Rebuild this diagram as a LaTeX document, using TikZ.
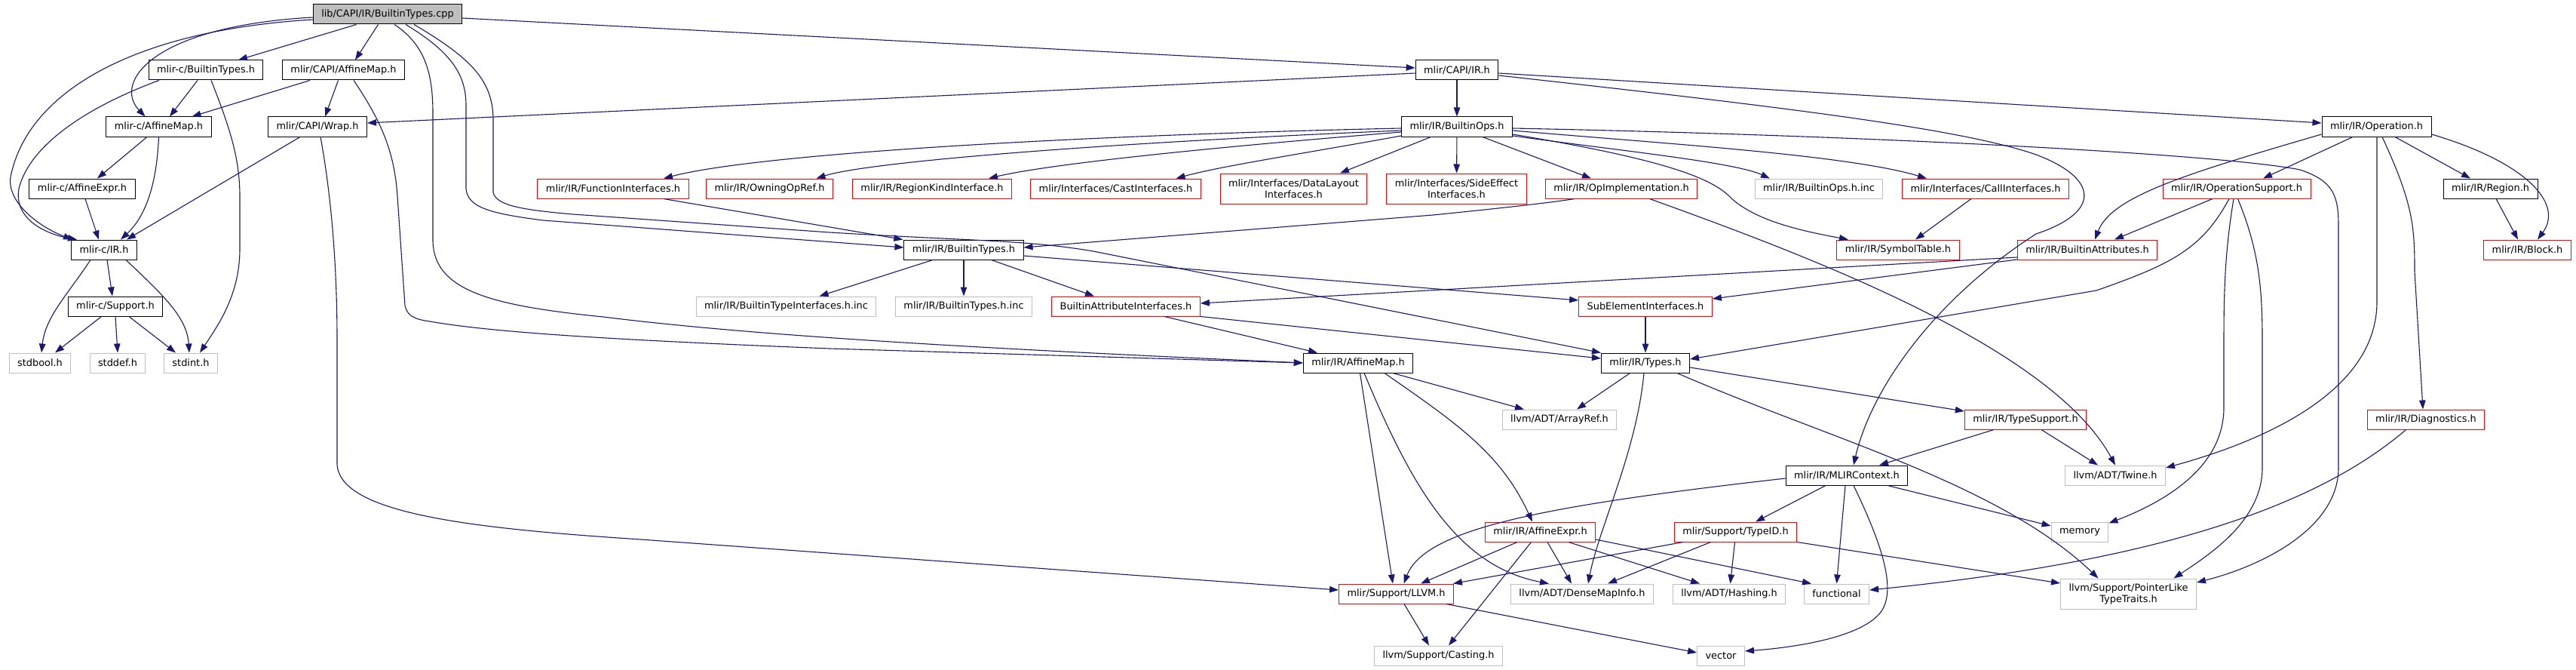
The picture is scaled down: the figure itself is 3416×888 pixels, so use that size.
\documentclass[tikz,border=0pt]{standalone}
\usepackage{fontspec}
\usetikzlibrary{arrows.meta,calc}
\newfontfamily\dvs{DejaVu Sans}
\definecolor{edgec}{RGB}{25,25,112}
\definecolor{grayb}{RGB}{191,191,191}
\definecolor{redb}{RGB}{255,0,0}
\begin{document}
\begin{tikzpicture}[x=1pt,y=-1pt,
  nd/.style={draw, line width=1pt, inner xsep=11pt, inner ysep=0pt, minimum height=26pt,
    font=\dvs\fontsize{12.9}{15}\selectfont, align=center, text=black},
  blk/.style={nd, draw=black},
  rnd/.style={nd, draw=redb},
  gnd/.style={nd, draw=grayb},
  twol/.style={minimum height=40pt},
  lnk/.style={draw=edgec, line width=1.1pt, -{Triangle[length=12pt,width=8.5pt]}}]
\fill[white] (0,0) rectangle (3416,888);
\useasboundingbox (0,0) rectangle (3416,888);
% nodes
\node[blk, fill=grayb] (root) at (514,19) {lib/CAPI/IR/BuiltinTypes.cpp};
\node[blk] (cBT) at (273,93) {mlir-c/BuiltinTypes.h};
\node[blk] (capiAM) at (455.5,93) {mlir/CAPI/AffineMap.h};
\node[blk] (capiIR) at (1932,93) {mlir/CAPI/IR.h};
\node[blk] (cAM) at (210.5,168) {mlir-c/AffineMap.h};
\node[blk] (wrap) at (421,168) {mlir/CAPI/Wrap.h};
\node[blk] (bops) at (1932,168) {mlir/IR/BuiltinOps.h};
\node[blk] (oper) at (3151.5,168) {mlir/IR/Operation.h};
\node[blk] (cAE) at (109,250) {mlir-c/AffineExpr.h};
\node[rnd] (funcI) at (813,250) {mlir/IR/FunctionInterfaces.h};
\node[rnd] (owning) at (1020.5,250) {mlir/IR/OwningOpRef.h};
\node[rnd] (regionK) at (1236,250) {mlir/IR/RegionKindInterface.h};
\node[rnd] (castI) at (1479.5,250) {mlir/Interfaces/CastInterfaces.h};
\node[rnd, twol] (dlI) at (1715.5,250) {mlir/Interfaces/DataLayout\\Interfaces.h};
\node[rnd, twol] (seI) at (1931.5,250) {mlir/Interfaces/SideEffect\\Interfaces.h};
\node[rnd] (opImpl) at (2150,250) {mlir/IR/OpImplementation.h};
\node[gnd] (bopsInc) at (2412,250) {mlir/IR/BuiltinOps.h.inc};
\node[rnd] (callI) at (2633,250) {mlir/Interfaces/CallInterfaces.h};
\node[rnd] (opSup) at (2966,250) {mlir/IR/OperationSupport.h};
\node[blk] (region) at (3302.5,250) {mlir/IR/Region.h};
\node[blk] (cIR) at (138,331) {mlir-c/IR.h};
\node[blk] (btypes) at (1278,331) {mlir/IR/BuiltinTypes.h};
\node[rnd] (symT) at (2517,331) {mlir/IR/SymbolTable.h};
\node[rnd] (battr) at (2768,331) {mlir/IR/BuiltinAttributes.h};
\node[rnd] (block) at (3351.5,331) {mlir/IR/Block.h};
\node[blk] (cSup) at (153,406) {mlir-c/Support.h};
\node[gnd] (btiInc) at (1042.5,406) {mlir/IR/BuiltinTypeInterfaces.h.inc};
\node[gnd] (btInc) at (1278,406) {mlir/IR/BuiltinTypes.h.inc};
\node[rnd] (baI) at (1493,406) {BuiltinAttributeInterfaces.h};
\node[rnd] (subE) at (2182,406) {SubElementInterfaces.h};
\node[gnd] (stdbool) at (53,481) {stdbool.h};
\node[gnd] (stddef) at (156,481) {stddef.h};
\node[gnd] (stdint) at (253,481) {stdint.h};
\node[blk] (irAM) at (1801,481) {mlir/IR/AffineMap.h};
\node[blk] (types) at (2182,481) {mlir/IR/Types.h};
\node[gnd] (arrayref) at (2068,556) {llvm/ADT/ArrayRef.h};
\node[rnd] (typeSup) at (2686,556) {mlir/IR/TypeSupport.h};
\node[rnd] (diag) at (3217,556) {mlir/IR/Diagnostics.h};
\node[blk] (mctx) at (2449,630) {mlir/IR/MLIRContext.h};
\node[gnd] (twine) at (2805,630) {llvm/ADT/Twine.h};
\node[rnd] (irAE) at (2042.5,705) {mlir/IR/AffineExpr.h};
\node[rnd] (typeid) at (2301.5,705) {mlir/Support/TypeID.h};
\node[gnd] (memory) at (2758,705) {memory};
\node[rnd] (llvm) at (1851.5,787) {mlir/Support/LLVM.h};
\node[gnd] (dmi) at (2098,787) {llvm/ADT/DenseMapInfo.h};
\node[gnd] (hashing) at (2293,787) {llvm/ADT/Hashing.h};
\node[gnd] (functional) at (2435.5,787) {functional};
\node[gnd, twol] (plt) at (2822.5,787) {llvm/Support/PointerLike\\TypeTraits.h};
\node[gnd] (casting) at (1907.5,869) {llvm/Support/Casting.h};
\node[gnd] (vector) at (2282,869) {vector};
% edges
\draw[lnk] ($(root.south)+(-41.5,0)$) -- ($(cBT.north)+(43,0)$);
\draw[lnk] ($(root.south)+(-12.5,0)$) -- ($(capiAM.north)+(15.5,0)$);
\draw[lnk] ($(root.west)+(0,4)$) .. controls (200,35) and (150,110) .. ($(cAM.north)+(-18,0)$);
\draw[lnk] ($(root.west)+(0,7)$) .. controls (180,40) and (40,120) .. (15,230) .. controls (5,265) and (50,300) .. ($(cIR.north west)+(2,0)$);
\draw[lnk] ($(root.east)+(0,5)$) -- ($(capiIR.west)+(0,-3)$);
\draw[lnk] ($(root.south)+(9,0)$) .. controls (565,60) and (574,100) .. (574,150) -- (574,320) .. controls (576,385) and (650,405) .. (800,420) .. controls (1000,445) and (1300,462) .. (irAM.west);
\draw[lnk] ($(capiAM.south)+(13.5,0)$) .. controls (505,160) and (523,200) .. (527,260) -- (537,405) .. controls (540,418) and (548,423) .. (570,426) .. controls (650,440) and (800,450) .. (1100,462) -- (irAM.west);
\draw[lnk] ($(root.south)+(24,0)$) .. controls (600,70) and (618,100) .. (618,140) -- (618,250) .. controls (620,275) and (650,283) .. (720,292) -- ($(btypes.west)+(0,-3)$);
\draw[lnk] ($(root.south)+(35,0)$) .. controls (630,80) and (654,110) .. (654,160) -- (654,255) .. controls (658,272) and (690,278) .. (760,284) -- (1100,308) .. controls (1300,320) and (1360,318) .. (1450,333) -- (types.north west);
\draw[lnk] ($(cBT.south)+(-11,0)$) -- ($(cAM.north)+(14.5,0)$);
\draw[lnk] ($(cBT.south)+(-62,0)$) .. controls (120,140) and (40,190) .. (25,250) .. controls (18,290) and (60,310) .. ($(cIR.north west)+(8,0)$);
\draw[lnk] ($(cBT.south)+(7,0)$) .. controls (305,170) and (318,210) .. (318,260) -- (318,330) .. controls (318,390) and (290,430) .. ($(stdint.north)+(12,0)$);
\draw[lnk] ($(capiAM.south)+(-44.5,0)$) -- ($(cAM.north)+(44,0)$);
\draw[lnk] ($(capiAM.south)+(-7,0)$) -- ($(wrap.north)+(10,0)$);
\draw[lnk] (capiIR) -- (bops);
\draw[lnk] ($(capiIR.west)+(0,4)$) -- ($(wrap.east)+(0,-5)$);
\draw[lnk] ($(capiIR.east)+(0,4)$) -- ($(oper.west)+(0,-5)$);
\draw[lnk] ($(capiIR.east)+(0,7)$) .. controls (2350,140) and (2600,170) .. (2700,205) .. controls (2780,235) and (2790,280) .. (2700,310) .. controls (2560,400) and (2480,520) .. ($(mctx.north)+(9,0)$);
\draw[lnk] ($(bops.west)+(0,2)$) .. controls (1400,180) and (1000,205) .. ($(funcI.north)+(67,0)$);
\draw[lnk] ($(bops.west)+(0,5)$) .. controls (1450,190) and (1150,215) .. ($(owning.north)+(62,0)$);
\draw[lnk] ($(bops.west)+(0,7)$) .. controls (1550,200) and (1380,220) .. ($(regionK.north)+(75,0)$);
\draw[lnk] ($(bops.west)+(0,12)$) .. controls (1720,205) and (1620,220) .. ($(castI.north)+(80,0)$);
\draw[lnk] ($(bops.south)+(-34.5,0)$) -- ($(dlI.north)+(61.5,0)$);
\draw[lnk] (bops) -- (seI);
\draw[lnk] ($(bops.south)+(34,0)$) -- ($(opImpl.north)+(-40,0)$);
\draw[lnk] ($(bops.east)+(0,12)$) .. controls (2150,200) and (2300,215) .. ($(bopsInc.north)+(-65,0)$);
\draw[lnk] ($(bops.east)+(0,5)$) .. controls (2200,190) and (2450,205) .. ($(callI.north)+(-78,0)$);
\draw[lnk] ($(bops.east)+(0,10)$) .. controls (2200,210) and (2270,235) .. (2295,262) .. controls (2330,295) and (2400,308) .. ($(symT.north)+(-66,0)$);
\draw[lnk] ($(bops.east)+(0,2)$) .. controls (2500,180) and (2950,205) .. (3050,225) .. controls (3095,240) and (3101,260) .. (3101,300) -- (3101,620) .. controls (3101,700) and (3000,750) .. ($(plt.east)+(0,-15)$);
\draw[lnk] ($(opImpl.south)+(-62,0)$) .. controls (2060,268) and (2000,275) .. (1900,285) -- ($(btypes.east)+(0,-3)$);
\draw[lnk] ($(opImpl.south)+(37.5,0)$) .. controls (2400,340) and (2720,460) .. (twine.north);
\draw[lnk] ($(callI.south)+(-19,0)$) -- ($(symT.north)+(23,0)$);
\draw[lnk] ($(oper.west)+(0,10)$) .. controls (2900,230) and (2800,260) .. ($(battr.north)+(10,0)$);
\draw[lnk] ($(oper.south)+(-31.5,0)$) -- ($(opSup.north)+(35,0)$);
\draw[lnk] ($(oper.south)+(24.5,0)$) -- ($(region.north)+(-26.5,0)$);
\draw[lnk] ($(oper.east)+(0,10)$) .. controls (3350,215) and (3400,270) .. ($(block.north)+(13.5,0)$);
\draw[lnk] ($(oper.south)+(0.5,0)$) -- (3152,400) .. controls (3152,520) and (3000,585) .. ($(twine.east)+(0,-10)$);
\draw[lnk] ($(oper.south)+(7.5,0)$) .. controls (3200,270) and (3202,300) .. (3202,360) -- ($(diag.north)+(-4,0)$);
\draw[lnk] ($(opSup.south)+(-32,0)$) -- ($(battr.north)+(36,0)$);
\draw[lnk] ($(opSup.south)+(-10,0)$) .. controls (2920,330) and (2880,350) .. (2780,385) -- ($(types.east)+(0,-5)$);
\draw[lnk] ($(opSup.south)+(-4,0)$) .. controls (2951,330) and (2949,380) .. (2949,450) -- (2949,540) .. controls (2949,620) and (2870,665) .. ($(memory.north east)+(0,2)$);
\draw[lnk] ($(opSup.south)+(1.5,0)$) .. controls (2995,330) and (3000,380) .. (3000,450) -- (3000,620) .. controls (3000,690) and (2930,735) .. ($(plt.north)+(60,0)$);
\draw[lnk] ($(region.south)+(7.5,0)$) -- ($(block.north)+(-12.5,0)$);
\draw[lnk] ($(battr.west)+(0,10)$) -- ($(baI.east)+(0,-4)$);
\draw[lnk] ($(battr.west)+(0,13)$) -- ($(subE.east)+(0,-10)$);
\draw[lnk] ($(btypes.south)+(-41,0)$) -- ($(btiInc.north)+(44,0)$);
\draw[lnk] (btypes) -- (btInc);
\draw[lnk] ($(btypes.south)+(36.5,0)$) -- ($(baI.north)+(-42,0)$);
\draw[lnk] ($(btypes.east)+(0,8)$) -- ($(subE.west)+(0,-8)$);
\draw[lnk] ($(funcI.south)+(67,0)$) -- ($(btypes.north west)+(-1,0)$);
\draw[lnk] ($(baI.south)+(51,0)$) -- ($(irAM.north)+(-54,0)$);
\draw[lnk] (baI.south east) -- ($(types.west)+(0,-6)$);
\draw[lnk] (subE) -- (types);
\draw[lnk] ($(cAM.south)+(-15.5,0)$) -- ($(cAE.north)+(20,0)$);
\draw[lnk] (cAM.south) .. controls (208,240) and (195,285) .. ($(cIR.north)+(22,0)$);
\draw[lnk] ($(cAE.south)+(4,0)$) -- ($(cIR.north)+(-7,0)$);
\draw[lnk] ($(wrap.south)+(-23,0)$) -- ($(cIR.north)+(30,0)$);
\draw[lnk] ($(wrap.south)+(4,0)$) .. controls (443,280) and (447,380) .. (447,450) -- (447,615) .. controls (450,680) and (620,700) .. (850,715) -- ($(llvm.west)+(0,-5)$);
\draw[lnk] ($(cIR.south)+(4,0)$) -- ($(cSup.north)+(-4,0)$);
\draw[lnk] ($(cIR.south)+(-18,0)$) .. controls (90,390) and (60,420) .. ($(stdbool.north)+(2,0)$);
\draw[lnk] ($(cIR.south)+(29,0)$) .. controls (215,390) and (248,420) .. ($(stdint.north)+(-2,0)$);
\draw[lnk] ($(cSup.south)+(-18.5,0)$) -- ($(stdbool.north)+(20,0)$);
\draw[lnk] (cSup.south) -- (stddef.north);
\draw[lnk] ($(cSup.south)+(18,0)$) -- ($(stdint.north)+(-20,0)$);
\draw[lnk] ($(irAM.south)+(2.5,0)$) -- ($(llvm.north)+(-4.5,0)$);
\draw[lnk] ($(irAM.south)+(8,0)$) .. controls (1870,640) and (1930,750) .. ($(dmi.north)+(-44,0)$);
\draw[lnk] ($(irAM.south)+(35,0)$) .. controls (1930,560) and (1990,600) .. ($(irAE.north)+(-10.5,0)$);
\draw[lnk] ($(irAM.south)+(46,0)$) -- ($(arrayref.north)+(-47,0)$);
\draw[lnk] ($(types.south)+(-20.5,0)$) -- ($(arrayref.north)+(23,0)$);
\draw[lnk] ($(types.south)+(-2,0)$) .. controls (2170,600) and (2120,700) .. ($(dmi.north)+(8,0)$);
\draw[lnk] ($(types.east)+(0,6)$) -- ($(typeSup.west)+(0,-11)$);
\draw[lnk] ($(types.south)+(42,0)$) .. controls (2420,580) and (2650,640) .. ($(plt.north)+(-40,0)$);
\draw[lnk] ($(typeSup.south)+(-42,0)$) -- ($(mctx.north)+(43,0)$);
\draw[lnk] ($(typeSup.south)+(21,0)$) -- ($(twine.north)+(-23,0)$);
\draw[lnk] ($(mctx.south)+(-28,0)$) -- ($(typeid.north)+(26.5,0)$);
\draw[lnk] ($(mctx.south)+(-2,0)$) -- (functional.north);
\draw[lnk] ($(mctx.south)+(9,0)$) .. controls (2495,720) and (2515,780) .. (2495,810) .. controls (2470,845) and (2380,858) .. ($(vector.east)+(0,-6)$);
\draw[lnk] ($(mctx.south)+(54,0)$) -- ($(memory.west)+(0,-8)$);
\draw[lnk] ($(mctx.west)+(0,4)$) .. controls (2050,670) and (1890,700) .. ($(llvm.north)+(10,0)$);
\draw[lnk] ($(typeid.south)+(-69.5,0)$) -- ($(llvm.north east)+(-1,0)$);
\draw[lnk] ($(typeid.south)+(-33,0)$) -- ($(dmi.north)+(34,0)$);
\draw[lnk] ($(typeid.south)+(-1,0)$) -- ($(hashing.north)+(1.5,0)$);
\draw[lnk] (typeid.south east) -- ($(plt.west)+(0,-14)$);
\draw[lnk] ($(irAE.south)+(-30.5,0)$) -- ($(llvm.north)+(32.5,0)$);
\draw[lnk] ($(irAE.south)+(-12,0)$) -- ($(casting.north)+(13.5,0)$);
\draw[lnk] ($(irAE.south)+(9.5,0)$) -- ($(dmi.north)+(-14,0)$);
\draw[lnk] ($(irAE.south)+(37.5,0)$) -- ($(hashing.north)+(-39,0)$);
\draw[lnk] ($(irAE.east)+(0,10)$) -- ($(functional.north)+(-33.5,0)$);
\draw[lnk] ($(llvm.south)+(10.5,0)$) -- ($(casting.north)+(-12.5,0)$);
\draw[lnk] ($(llvm.south)+(66,0)$) -- ($(vector.west)+(0,-4)$);
\draw[lnk] ($(diag.south)+(-26.5,0)$) .. controls (3050,690) and (2800,750) .. ($(functional.east)+(0,-5)$);
\end{tikzpicture}
\end{document}
